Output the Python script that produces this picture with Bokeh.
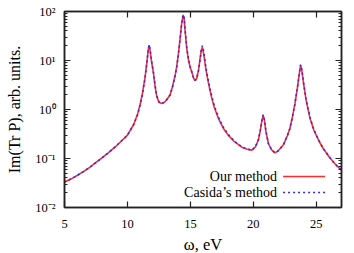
from bokeh.plotting import figure
from bokeh.models import (LinearAxis, LogAxis, FixedTicker, LogTicker, Label,
                          ColumnDataSource, CustomLabelingPolicy)
from bokeh.embed import file_html
from bokeh.resources import INLINE

# ---- data ----
omega = [5.0, 5.5, 6.0, 6.5, 7.0, 7.5, 8.0, 8.5, 9.0, 9.5, 10.0, 10.5, 10.8, 11.0, 11.2,
         11.4, 11.55, 11.65, 11.72, 11.8, 11.9, 12.06, 12.2, 12.33, 12.5, 12.73, 13.0, 13.2,
         13.39, 13.6, 13.8, 13.92, 14.05, 14.18, 14.3, 14.42, 14.5, 14.6, 14.71, 14.85, 15.0,
         15.11, 15.25, 15.37, 15.5, 15.65, 15.77, 15.87, 15.95, 16.05, 16.2, 16.3, 16.45,
         16.6, 16.7, 16.9, 17.22, 17.6, 18.0, 18.5, 19.08, 19.5, 19.87, 20.15, 20.4, 20.55,
         20.68, 20.78, 20.88, 21.0, 21.2, 21.45, 21.72, 22.0, 22.38, 22.7, 22.9, 23.1, 23.3,
         23.5, 23.65, 23.75, 23.85, 24.0, 24.2, 24.5, 24.8, 25.2, 25.55, 26.0, 26.35, 26.7, 27.0]
our = [0.033, 0.038, 0.045, 0.054, 0.066, 0.083, 0.104, 0.132, 0.17, 0.225, 0.30, 0.50, 0.80,
       1.25, 2.2, 4.6, 9.5, 16.5, 20.5, 16.0, 10.0, 5.6, 2.9, 1.85, 1.4, 1.32, 1.45, 1.7,
       2.0, 3.1, 5.2, 7.8, 14.0, 28.0, 55.0, 85.0, 72.0, 35.0, 17.5, 10.0, 7.0,
       5.8, 4.4, 3.9, 4.3, 6.5, 11.0, 16.5, 18.5, 14.0, 7.5, 5.2, 3.3,
       2.2, 1.7, 1.1, 0.66, 0.42, 0.30, 0.22, 0.17, 0.155, 0.148, 0.17, 0.24, 0.37,
       0.6, 0.76, 0.6, 0.35, 0.2, 0.15, 0.13, 0.145, 0.19, 0.29, 0.41, 0.7, 1.3,
       2.8, 5.4, 8.0, 6.3, 3.2, 1.5, 0.66, 0.38, 0.23, 0.16, 0.11, 0.085, 0.068, 0.058]
casida = [0.033, 0.038, 0.045, 0.054, 0.066, 0.083, 0.104, 0.132, 0.17, 0.225, 0.30, 0.49, 0.78,
          1.2, 2.1, 4.4, 9.2, 16.5, 21.0, 16.5, 10.5, 5.8, 3.0, 1.9, 1.42, 1.32, 1.44, 1.68,
          1.98, 3.0, 5.0, 7.5, 13.5, 27.0, 54.0, 86.0, 75.0, 37.0, 18.5, 10.5, 7.2,
          5.9, 4.4, 3.9, 4.2, 6.3, 10.5, 16.5, 20.0, 15.5, 8.2, 5.7, 3.6,
          2.4, 1.85, 1.2, 0.70, 0.44, 0.31, 0.225, 0.172, 0.156, 0.148, 0.17, 0.24, 0.37,
          0.6, 0.78, 0.62, 0.36, 0.2, 0.15, 0.13, 0.145, 0.19, 0.29, 0.41, 0.7, 1.3,
          2.8, 5.4, 8.2, 6.5, 3.3, 1.55, 0.68, 0.39, 0.235, 0.16, 0.11, 0.085, 0.068, 0.058]

x_ticks = [5, 10, 15, 20, 25]
y_ticks = [0.01, 0.1, 1, 10, 100]
y_tick_labels = ["10\u207b\u00b2", "10\u207b\u00b9", "10\u2070", "10\u00b9", "10\u00b2"]
legend_labels = ["Our method", "Casida\u2019s method"]
x_label = "\u03c9, eV"
y_label = "Im(Tr P), arb. units."

FONT = "Liberation Serif"
FRAME = "#222222"

p = figure(frame_width=277, frame_height=196, x_range=(5, 27), y_range=(0.01, 100),
           y_axis_type="log", output_backend="svg", toolbar_location=None,
           min_border_left=64, min_border_right=11, min_border_top=8, min_border_bottom=40,
           background_fill_color="white", border_fill_color="white")
p.grid.visible = False
p.outline_line_color = FRAME
p.outline_line_width = 1.5

src = ColumnDataSource(dict(x=omega, our=our, casida=casida))
p.line("x", "our", source=src, line_color="#ff2a2a", line_width=1.6)
p.line("x", "casida", source=src, line_color="#2a2aff", line_width=1.6, line_dash="2 3")

def style(ax):
    ax.axis_line_color = FRAME
    ax.axis_line_width = 1.5
    ax.major_tick_line_color = FRAME
    ax.minor_tick_line_color = FRAME
    ax.major_tick_line_width = 1.2
    ax.minor_tick_line_width = 1.0
    ax.major_tick_in = 6
    ax.major_tick_out = 0
    ax.minor_tick_in = 3
    ax.minor_tick_out = 0
    ax.major_label_text_font = FONT
    ax.major_label_text_font_size = "12.5px"
    ax.major_label_text_color = "black"
    ax.axis_label_text_font = FONT
    ax.axis_label_text_font_size = "16.5px"
    ax.axis_label_text_font_style = "normal"
    ax.axis_label_text_color = "black"

xa = p.xaxis[0]
xa.ticker = FixedTicker(ticks=x_ticks)
style(xa)
xa.minor_tick_line_color = None
xa.major_label_standoff = 12
xa.axis_label = x_label
xa.axis_label_standoff = 4

ya = p.yaxis[0]
ya.ticker = LogTicker(num_minor_ticks=10)
style(ya)
ya.major_label_overrides = {v: s for v, s in zip(y_ticks, y_tick_labels)}
ya.major_label_standoff = 9
ya.axis_label = y_label
ya.axis_label_text_font_size = "16px"
ya.axis_label_standoff = 9

hide = CustomLabelingPolicy(code="")

top = LinearAxis(ticker=FixedTicker(ticks=x_ticks), major_label_policy=hide)
style(top)
top.minor_tick_line_color = None
top.major_label_standoff = 0
p.add_layout(top, "above")

right = LogAxis(ticker=LogTicker(num_minor_ticks=10), major_label_policy=hide)
style(right)
right.major_label_standoff = 0
p.add_layout(right, "right")

# legend (text right-aligned, sample line to its right)
leg_y = [0.043, 0.0202]
leg_colors = ["#ff2a2a", "#2a2aff"]
leg_dash = ["solid", "2 3"]
for lab, yy, c, d in zip(legend_labels, leg_y, leg_colors, leg_dash):
    p.add_layout(Label(x=21.88, y=yy, text=lab, text_align="right", text_baseline="middle",
                       text_font=FONT, text_font_size="14px", text_color="black"))
    p.line([22.36, 25.69], [yy, yy], line_color=c, line_width=1.6, line_dash=d)

open("out.html", "w").write(file_html(p, INLINE))
